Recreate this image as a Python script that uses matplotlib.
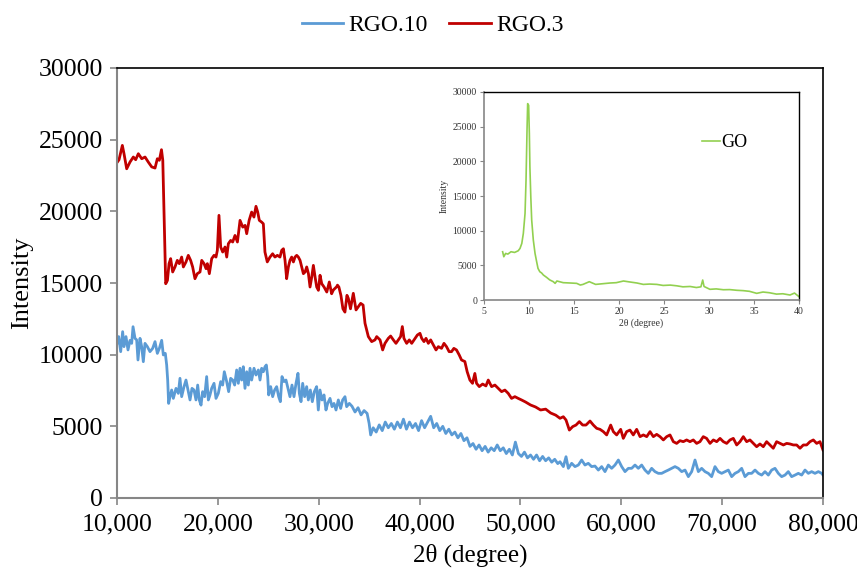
import matplotlib
matplotlib.use("Agg")
import matplotlib.pyplot as plt
from matplotlib.ticker import FuncFormatter, MultipleLocator

plt.rcParams['font.family'] = ['Liberation Serif', 'DejaVu Serif']

# ---------------- data ----------------
rgo3_x = [10000, 10200, 10530, 10700, 10960, 11290, 11620, 11850, 12115, 12450, 12780, 13100, 13440, 13770, 14000, 14200,
          14410, 14540, 14680, 14830, 15000, 15160, 15320, 15520, 15750, 15980, 16180, 16410, 16580, 16840, 17070, 17300,
          17500, 17730, 17960, 18230, 18400, 18630, 18830, 18960, 19155, 19390, 19620, 19815, 19950, 20110, 20280, 20480,
          20710, 20880, 21040, 21270, 21470, 21700, 21940, 22200, 22470, 22700, 22860, 23100, 23350, 23580, 23780, 23950,
          24110, 24340, 24510, 24670, 24900, 25170, 25430, 25660, 25900, 26160, 26330, 26500, 26660, 26820, 26990, 27150,
          27320, 27490, 27650, 27820, 27980, 28150, 28310, 28480, 28650, 28810, 28980, 29140, 29310, 29470, 29640, 29800,
          29970, 30130, 30300, 30530, 30800, 31050, 31280, 31450, 31780, 31860, 32000, 32200, 32400, 32600, 32800, 32935,
          33150, 33430, 33700, 33930, 34160, 34400, 34590, 34920, 35250, 35580, 35750, 36080, 36340, 36570, 36900, 37130,
          37400, 37660, 37890, 38120, 38290, 38450, 38720, 38980, 39220, 39550, 39780, 40040, 40210, 40440, 40640, 40870,
          41100, 41360, 41630, 41860, 42180, 42420, 42670, 42930, 43170, 43400, 43660, 43930, 44160, 44490, 44720, 44990,
          45250, 45480, 45650, 45920, 46250, 46580, 46810, 47140, 47470, 47800, 48130, 48460, 48790, 49120, 49450, 49780,
          50110, 50500, 51000, 51500, 52000, 52500, 53000, 53500, 53924, 54255, 54520, 54850, 55180, 55510, 55840, 56170,
          56500, 56900, 57230, 57560, 57890, 58220, 58550, 58950, 59210, 59540, 59940, 60200, 60530, 60860, 61190, 61525,
          61860, 62190, 62520, 62850, 63180, 63510, 63840, 64170, 64500, 64830, 65160, 65490, 65820, 66150, 66480, 66810,
          67140, 67470, 67800, 68130, 68460, 68800, 69130, 69460, 69790, 70120, 70450, 70780, 71110, 71440, 71770, 72100,
          72430, 72760, 73090, 73420, 73750, 74080, 74410, 74740, 75070, 75400, 75740, 76070, 76400, 76730, 77060, 77390,
          77720, 78050, 78380, 78710, 79040, 79370, 79700, 80000]
rgo3_y = [23400, 23600, 24600, 24000, 22970, 23440, 23790, 23600, 24020, 23670, 23790, 23440, 23100, 23020, 23670, 23560,
          24300, 23560, 19370, 14950, 15180, 16350, 16700, 15770, 16120, 16580, 16350, 16810, 16120, 16470, 16930, 16580,
          16120, 15300, 15650, 15770, 16580, 16350, 16000, 16350, 15650, 16700, 16930, 16810, 17280, 19720, 17510, 17160,
          17510, 16810, 17740, 17970, 17860, 18320, 17860, 19370, 18900, 19020, 18440, 19370, 19950, 19600, 20350, 19950,
          19370, 19250, 19130, 17160, 16470, 16810, 17040, 16810, 16930, 16810, 17280, 17390, 16580, 15300, 16120, 16580,
          16810, 16470, 16810, 16930, 16810, 16580, 16120, 15650, 15770, 16120, 15650, 14720, 15420, 16230, 15420, 14720,
          14490, 15540, 14950, 14720, 14370, 15070, 14250, 14510, 14740, 14850, 14720, 14140, 13200, 12970, 14140, 13930,
          13200, 14280, 13120, 13350, 13580, 13460, 12190, 11260, 10910, 11030, 11260, 11030, 10330, 10790, 11140, 11300,
          11030, 10790, 11030, 11260, 11960, 11140, 10790, 11030, 10790, 11140, 11370, 11490, 11140, 10910, 11140, 10790,
          11030, 10680, 10330, 10560, 10440, 10790, 10560, 10210, 10210, 10440, 10330, 9980, 9630, 9520, 8810, 8230,
          8000, 8690, 8000, 7770, 7950, 7820, 8230, 7770, 7880, 7650, 7420, 7530, 7300, 6950, 7070, 6950,
          6840, 6700, 6490, 6350, 6140, 6200, 5930, 5780, 5560, 5670, 5440, 4740, 4980, 5090, 5330, 5090,
          5090, 5370, 5090, 4860, 4790, 4630, 4400, 5090, 4630, 4400, 4790, 4160, 4630, 4740, 4400, 4790,
          4280, 4400, 4280, 4630, 4280, 4440, 4280, 4050, 4280, 4400, 3930, 3810, 4000, 3930, 4050, 3930,
          4050, 3810, 3930, 4280, 4160, 3810, 4050, 3930, 4160, 3930, 3810, 4050, 4160, 3700, 3930, 4280,
          3930, 4050, 3810, 3580, 3770, 3580, 3930, 3700, 3470, 3930, 3810, 3700, 3810, 3770, 3700, 3700,
          3470, 3700, 3700, 3930, 4050, 3810, 3930, 3350]

rgo10_x = [10000, 10165, 10365, 10560, 10695, 10890, 11090, 11290, 11455, 11590, 11785, 11950, 12080, 12280, 12445, 12610,
           12775, 13010, 13270, 13535, 13770, 14000, 14200, 14430, 14595, 14790, 14925, 15025, 15120, 15255, 15420, 15585,
           15850, 16080, 16245, 16410, 16645, 16840, 17040, 17240, 17435, 17635, 17830, 18000, 18160, 18330, 18490, 18690,
           18890, 19055, 19220, 19385, 19620, 19815, 20045, 20280, 20475, 20640, 20875, 21070, 21270, 21470, 21665, 21865,
           22030, 22195, 22360, 22525, 22690, 22860, 23020, 23190, 23350, 23585, 23780, 24015, 24180, 24345, 24510, 24675,
           24805, 24940, 25040, 25235, 25435, 25630, 25830, 26030, 26195, 26360, 26560, 26755, 26955, 27150, 27350, 27550,
           27750, 27945, 28080, 28245, 28410, 28605, 28805, 28970, 29170, 29365, 29565, 29795, 29960, 30125, 30325, 30525,
           30720, 30890, 31120, 31320, 31515, 31715, 31945, 32175, 32375, 32605, 32770, 33035, 33300, 33600, 33900, 34200,
           34500, 34800, 35000, 35150, 35400, 35700, 36000, 36300, 36600, 36900, 37200, 37500, 37800, 38100, 38400, 38700,
           39000, 39300, 39600, 39900, 40200, 40500, 40800, 41100, 41400, 41700, 42000, 42300, 42600, 42900, 43200, 43500,
           43800, 44100, 44400, 44700, 45000, 45300, 45600, 45900, 46200, 46500, 46800, 47100, 47400, 47700, 48000, 48300,
           48600, 48900, 49200, 49500, 49800, 50100, 50400, 50700, 51000, 51300, 51600, 51900, 52200, 52500, 52800, 53100,
           53400, 53700, 53924, 54255, 54520, 54750, 55080, 55410, 55740, 56070, 56400, 56730, 57060, 57390, 57725, 58055,
           58385, 58715, 59045, 59375, 59710, 60040, 60370, 60700, 61030, 61360, 61690, 62020, 62350, 62680, 63010, 63340,
           63675, 64005, 64335, 64665, 64995, 65325, 65655, 65990, 66320, 66650, 66980, 67310, 67640, 67970, 68300, 68630,
           68960, 69290, 69620, 69950, 70285, 70615, 70945, 71275, 71605, 71935, 72265, 72600, 72930, 73260, 73590, 73920,
           74250, 74580, 74910, 75240, 75570, 75900, 76230, 76560, 76890, 77225, 77555, 77885, 78215, 78545, 78875, 79205,
           79540, 79870, 80000]
rgo10_y = [10790, 11260, 10210, 11605, 10560, 11260, 10330, 11000, 10790, 11950, 11140, 11030, 9630, 11140, 10560, 9510,
           10790, 10560, 10210, 10440, 10910, 10090, 10440, 11000, 9980, 10090, 9280, 8230, 6600, 7070, 7535, 6950,
           7650, 7300, 8350, 7070, 7770, 8230, 7535, 6840, 7650, 7535, 6840, 7880, 6840, 6480, 7420, 7070,
           8470, 6840, 7190, 7650, 8000, 6950, 7300, 8120, 7880, 8810, 8120, 7420, 8350, 8230, 7880, 8930,
           8000, 9050, 8230, 9160, 7650, 8810, 7880, 9050, 8230, 9050, 8580, 8930, 8230, 9050, 8810, 9160,
           9280, 8470, 7190, 7770, 7070, 7535, 7770, 7070, 6720, 8470, 8120, 8230, 7650, 7070, 7880, 7070,
           8000, 8700, 7300, 6720, 8000, 7070, 7770, 6840, 7535, 6720, 7420, 7770, 6140, 7535, 6840, 7190,
           6140, 6600, 6950, 6370, 6600, 6140, 6840, 6250, 6840, 7070, 6370, 6600, 6400, 6000, 6300, 5800,
           6100, 5900, 5200, 4400, 4900, 4600, 5100, 4700, 5300, 4900, 5200, 4800, 5300, 4900, 5500, 4800,
           5300, 4900, 5200, 4700, 5400, 4900, 5300, 5700, 4900, 5200, 4700, 5000, 4500, 4800, 4400, 4600,
           4200, 4500, 4000, 4200, 3600, 3800, 3400, 3700, 3300, 3600, 3200, 3500, 3300, 3700, 3300, 3500,
           3100, 3400, 3000, 3900, 3100, 2900, 3200, 2800, 3000, 2700, 3000, 2600, 2900, 2600, 2800, 2500,
           2700, 2400, 2530, 2190, 2880, 2070, 2420, 2190, 2300, 2650, 2300, 2420, 2190, 2230, 1950, 2190,
           1840, 2300, 2070, 2300, 2650, 2190, 1840, 2070, 2070, 2300, 2070, 2300, 1950, 1720, 2070, 1840,
           1720, 1720, 1840, 1950, 2070, 2190, 2070, 1840, 1950, 1490, 1840, 2650, 1840, 2070, 1840, 1720,
           1490, 2190, 1840, 1720, 1840, 1950, 1490, 1720, 1840, 2070, 1490, 1720, 1720, 1950, 1720, 1600,
           1840, 1600, 1950, 2070, 1720, 1490, 1600, 1840, 1490, 1600, 1720, 1600, 1950, 1720, 1840, 1720,
           1840, 1720, 1600]

go_x = [7.07, 7.2, 7.4, 7.65, 8.0, 8.4, 8.8, 9.0, 9.2, 9.37, 9.56, 9.67, 9.78, 9.85, 9.96, 10.04, 10.1, 10.2,
        10.3, 10.48, 10.67, 10.85, 11.0, 11.2, 11.4, 11.6, 11.96, 12.3, 12.7, 12.9, 13.1, 13.8, 14.6, 15.3,
        15.7, 16.0, 16.7, 17.4, 18.2, 19.0, 19.7, 20.5, 21.2, 22.0, 22.7, 23.4, 24.2, 24.9, 25.7, 26.4,
        27.1, 27.9, 28.6, 29.1, 29.3, 29.45, 30.1, 30.8, 31.6, 32.3, 33.1, 33.8, 34.5, 35.3, 36.0, 36.7,
        37.5, 38.2, 39.0, 39.5, 40.0]
go_y = [6960, 6240, 6720, 6620, 6960, 6860, 7100, 7440, 8160, 9600, 12480, 17280, 24480, 28320, 28080, 24000, 19200, 14880,
        11520, 8640, 6720, 5520, 4560, 4080, 3900, 3600, 3260, 2900, 2640, 2400, 2740, 2500, 2450, 2400,
        2160, 2250, 2640, 2250, 2350, 2450, 2500, 2740, 2600, 2450, 2250, 2300, 2250, 2100, 2150, 2050,
        1900, 1950, 1800, 1900, 2880, 1950, 1540, 1600, 1480, 1500, 1400, 1350, 1250, 960, 1150, 1050,
        850, 900, 720, 1000, 480]

# ---------------- figure ----------------
fig = plt.figure(figsize=(8.57, 5.70), dpi=100)
ax = fig.add_axes([117/857, 1-498/570, (823-117)/857, (498-68)/570])

blue = '#5B9BD5'
red = '#C00000'
green = '#92D050'
gray = '#868686'

l1, = ax.plot(rgo10_x, rgo10_y, color=blue, lw=2.0, label='RGO.10')
l2, = ax.plot(rgo3_x, rgo3_y, color=red, lw=2.0, label='RGO.3')

ax.set_xlim(10000, 80000)
ax.set_ylim(0, 30000)
ax.xaxis.set_major_locator(MultipleLocator(10000))
ax.yaxis.set_major_locator(MultipleLocator(5000))
ax.xaxis.set_major_formatter(FuncFormatter(lambda v, p: f"{int(v):,}"))
ax.yaxis.set_major_formatter(FuncFormatter(lambda v, p: f"{int(v)}"))
for s in ['left', 'bottom']:
    ax.spines[s].set_color(gray)
    ax.spines[s].set_linewidth(1.5)
for s in ['top', 'right']:
    ax.spines[s].set_color('black')
    ax.spines[s].set_linewidth(1.2)
ax.tick_params(axis='x', direction='out', length=5, width=1.2, color=gray, labelsize=18.5, pad=6)
ax.tick_params(axis='y', direction='out', length=5, width=1.2, color=gray, labelsize=18.5, pad=5)
ax.set_ylabel('Intensity', fontsize=19, labelpad=4)
ax.set_xlabel('2θ (degree)', fontsize=18, labelpad=6)

fig.legend(handles=[l1, l2], loc='center', bbox_to_anchor=(0.505, 1-25/570), ncol=2, frameon=False,
           fontsize=17, handlelength=1.75, handletextpad=0.25, columnspacing=0.9)

# ---------------- inset ----------------
ins = fig.add_axes([484/857, 1-300/570, (799-484)/857, (300-92)/570])
g, = ins.plot(go_x, go_y, color=green, lw=1.2, label='GO')
ins.set_xlim(5, 40)
ins.set_ylim(0, 30000)
ins.xaxis.set_major_locator(MultipleLocator(5))
ins.yaxis.set_major_locator(MultipleLocator(5000))
for s in ['left', 'bottom']:
    ins.spines[s].set_color(gray)
    ins.spines[s].set_linewidth(1.2)
for s in ['top', 'right']:
    ins.spines[s].set_color('black')
    ins.spines[s].set_linewidth(1.0)
ins.tick_params(axis='both', direction='out', length=3, width=0.8, color=gray, labelsize=7, pad=2,
                labelcolor='#333333')
ins.set_ylabel('Intensity', fontsize=7, labelpad=3, color='#333333')
ins.set_xlabel('2θ (degree)', fontsize=7, labelpad=2, color='#333333')
ins.legend(handles=[g], loc='center left', bbox_to_anchor=(0.64, 0.755), frameon=False, fontsize=13,
           handlelength=1.0, handletextpad=0.1)

fig.savefig('out.png', dpi=100)
